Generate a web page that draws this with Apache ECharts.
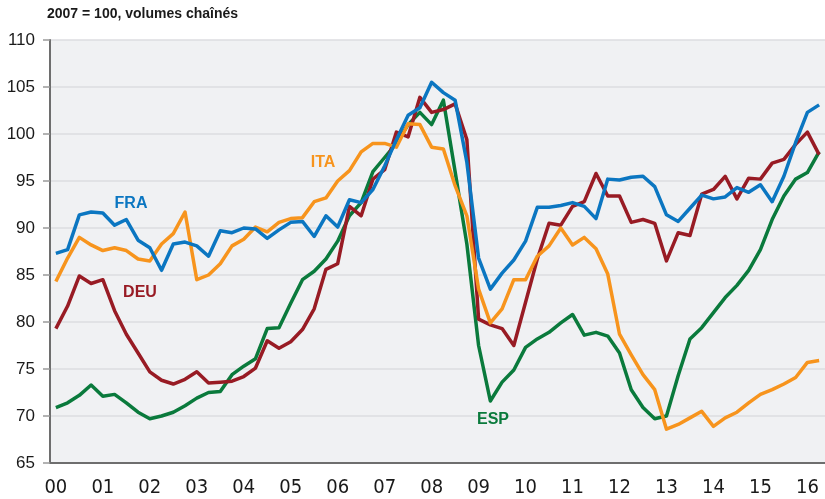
<!DOCTYPE html>
<html>
<head>
<meta charset="utf-8">
<script src="https://cdn.jsdelivr.net/npm/echarts@6/dist/echarts.min.js"></script>
<style>
  html, body { margin: 0; padding: 0; background: #fff; }
  #chart { width: 825px; height: 499px; }
</style>
</head>
<body>
<div id="chart"></div>
<script>
// quarterly, 2000Q1 .. 2016Q2
const years = ['00', '01', '02', '03', '04', '05', '06', '07', '08', '09', '10', '11', '12', '13', '14', '15', '16'];
const nQuarters = 66;

const fra = [87.3, 87.7, 91.4, 91.7, 91.6, 90.3, 90.9, 88.7, 87.9, 85.5, 88.3, 88.5, 88.1, 87.0, 89.7, 89.5,
  90.0, 89.9, 88.9, 89.8, 90.6, 90.7, 89.1, 91.3, 90.1, 93.0, 92.7, 94.1, 96.6, 99.4, 102.0, 102.8,
  105.5, 104.4, 103.6, 97.0, 86.8, 83.5, 85.2, 86.6, 88.6, 92.2, 92.2, 92.4, 92.7, 92.3, 91.0, 95.2,
  95.1, 95.4, 95.5, 94.4, 91.4, 90.7, 92.1, 93.5, 93.1, 93.3, 94.3, 93.8, 94.6, 92.8, 95.5, 99.1,
  102.3, 103.1];
const ita = [84.3, 86.8, 89.0, 88.2, 87.6, 87.9, 87.6, 86.7, 86.5, 88.3, 89.4, 91.7, 84.5, 85.0, 86.2, 88.1,
  88.8, 90.1, 89.6, 90.6, 91.0, 91.1, 92.8, 93.2, 95.0, 96.1, 98.1, 99.0, 99.0, 98.6, 101.1, 101.0,
  98.6, 98.4, 94.5, 91.3, 83.5, 79.9, 81.4, 84.5, 84.5, 87.0, 88.1, 90.0, 88.2, 89.0, 87.8, 85.1,
  78.7, 76.5, 74.4, 72.8, 68.6, 69.1, 69.8, 70.5, 68.9, 69.8, 70.4, 71.4, 72.3, 72.8, 73.4, 74.1,
  75.7, 75.9];
const deu = [79.3, 81.7, 84.9, 84.1, 84.5, 81.2, 78.7, 76.7, 74.7, 73.8, 73.4, 73.9, 74.7, 73.5, 73.6, 73.7,
  74.2, 75.1, 78.0, 77.2, 77.9, 79.2, 81.4, 85.6, 86.2, 92.3, 91.3, 95.2, 96.2, 100.2, 99.7, 103.9,
  102.3, 102.6, 103.2, 99.4, 80.3, 79.7, 79.3, 77.5, 82.1, 86.7, 90.5, 90.3, 92.3, 92.8, 95.8, 93.4,
  93.4, 90.6, 90.9, 90.5, 86.5, 89.5, 89.2, 93.6, 94.1, 95.5, 93.1, 95.3, 95.2, 96.9, 97.3, 98.9,
  100.2, 97.8];
const esp = [70.9, 71.4, 72.2, 73.3, 72.1, 72.3, 71.4, 70.4, 69.7, 70.0, 70.4, 71.1, 71.9, 72.5, 72.6, 74.4,
  75.3, 76.1, 79.3, 79.4, 82.0, 84.5, 85.4, 86.7, 88.6, 91.3, 92.7, 96.0, 97.5, 99.0, 101.0, 102.3,
  101.0, 103.6, 96.0, 88.3, 77.5, 71.6, 73.6, 74.9, 77.3, 78.2, 78.9, 79.9, 80.8, 78.6, 78.9, 78.5,
  76.7, 72.8, 70.9, 69.7, 70.0, 74.3, 78.2, 79.4, 81.0, 82.6, 83.9, 85.5, 87.7, 90.9, 93.4, 95.2,
  95.9, 98.1];

const categories = [];
for (let i = 0; i < nQuarters; i++) {
  categories.push(i % 4 === 0 ? years[i / 4] : '');
}

const colors = { FRA: '#0b76c1', ITA: '#f7941d', DEU: '#981b24', ESP: '#0a7a3c' };

function line(name, data) {
  return {
    name,
    type: 'line',
    data,
    symbol: 'none',
    lineStyle: { color: colors[name], width: 3.5, join: 'round' },
    z: 3
  };
}

function tag(text, x, y) {
  return {
    type: 'text',
    style: {
      text, x, y,
      fill: colors[text],
      font: 'bold 16px "Liberation Sans", Arial, sans-serif',
      align: 'center',
      verticalAlign: 'middle'
    },
    z: 10
  };
}

let myChart = echarts.init(document.getElementById('chart'));
myChart.setOption({
  animation: false,
  textStyle: { fontFamily: '"Liberation Sans", Arial, sans-serif' },
  grid: {
    left: 50, top: 40, right: -4, bottom: 36,
    show: true, backgroundColor: '#f0f1f3', borderWidth: 0
  },
  xAxis: {
    type: 'category',
    data: categories,
    boundaryGap: true,
    axisLine: { lineStyle: { color: '#6e6e6e', width: 2 } },
    axisTick: {
      interval: (i) => i % 4 === 0,
      length: 7,
      lineStyle: { color: '#9a9a9a', width: 1.5 }
    },
    axisLabel: {
      interval: (i) => i % 4 === 0,
      margin: 15,
      color: '#1a1a1a',
      fontSize: 20,
      fontFamily: '"Liberation Sans Narrow", "DejaVu Sans Condensed", sans-serif'
    },
    splitLine: { show: false }
  },
  yAxis: {
    type: 'value',
    min: 65, max: 110, interval: 5,
    axisLine: { show: true, lineStyle: { color: '#6e6e6e', width: 2 } },
    axisTick: { show: true, length: 7, lineStyle: { color: '#9a9a9a', width: 1.5 } },
    axisLabel: { margin: 15, color: '#1a1a1a', fontSize: 17 },
    splitLine: { lineStyle: { color: '#dcdde0', width: 1.5 } }
  },
  graphic: [
    {
      type: 'text',
      style: {
        text: '2007 = 100, volumes chaînés',
        x: 47, y: 14,
        fill: '#1a1a1a',
        font: 'bold 14px "Liberation Sans", Arial, sans-serif',
        verticalAlign: 'middle'
      }
    },
    tag('FRA', 131, 204),
    tag('DEU', 140, 293),
    tag('ITA', 323, 163),
    tag('ESP', 493, 420)
  ],
  series: [
    line('ESP', esp),
    line('DEU', deu),
    line('ITA', ita),
    line('FRA', fra)
  ]
});
</script>
</body>
</html>
